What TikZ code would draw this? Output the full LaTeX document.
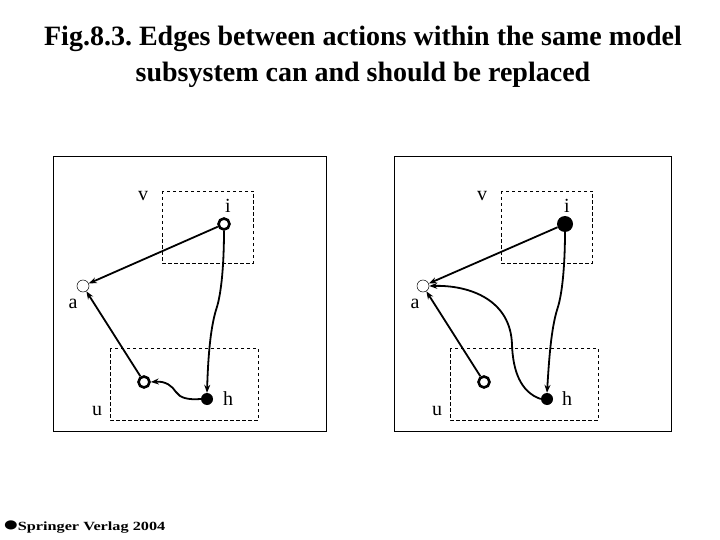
\documentclass[tikz,border=0pt]{standalone}
\usepackage{fontspec}
\setmainfont{Liberation Serif}
\usetikzlibrary{arrows.meta}
\frenchspacing
\begin{document}
\begin{tikzpicture}[x=1pt,y=-1pt,
  panel/.style={draw,line width=0.9pt},
  sub/.style={draw,line width=0.7pt,dash pattern=on 3.5pt off 2.5pt},
  ring/.style={circle,draw,line width=2.6pt,minimum size=11pt,inner sep=0pt},
  dot/.style={circle,fill,minimum size=12pt,inner sep=0pt},
  bigdot/.style={circle,fill,minimum size=16pt,inner sep=0pt},
  open/.style={circle,draw,line width=0.5pt,minimum size=12pt,inner sep=0pt},
  lbl/.style={font=\fontsize{20}{22}\selectfont,inner sep=0pt},
  edge/.style={line width=1.8pt,-{Stealth[length=8pt,width=6pt]}}]
\useasboundingbox (0,0) rectangle (720,540);
% title
\node[font=\bfseries\fontsize{28}{36}\selectfont,align=center] (title) at (363,57)
  {Fig.8.3. Edges between actions within the same model\\subsystem can and should be replaced};
% copyright
\node[anchor=west,inner sep=0pt] (copy) at (4,527)
  {\scalebox{1.3}[1]{\raisebox{1.5pt}{\fontspec{DejaVu Sans}\fontsize{12}{12}\selectfont ●}\fontspec{Liberation Serif}\bfseries\fontsize{12.5}{14}\selectfont Springer Verlag 2004}};

% ---------- left panel ----------
\draw[panel] (53,156) rectangle (326,431);
\draw[sub] (162,191) rectangle (253,263);
\draw[sub] (110,348) rectangle (258,420);
\node[lbl] (Lv) at (143,196) {v};
\node[lbl] (Li) at (228,206) {i};
\node[lbl] (La) at (73,304) {a};
\node[lbl] (Lu) at (97,411) {u};
\node[lbl] (Lh) at (228,399) {h};
\node[open] (a1) at (83,286) {};
\node[ring] (i1) at (224,224) {};
\node[ring] (u1) at (144,382) {};
\node[dot] (h1) at (207,399) {};
\draw[edge] (i1) -- (a1);
\draw[edge] (u1) -- (a1);
\draw[edge] (i1.south) .. controls (224,250) and (223,290) .. (216,310)
  .. controls (210,330) and (208,360) .. (h1.north);
\draw[edge] (h1.west) .. controls (188,400) and (180,398) .. (176,392)
  .. controls (172,386) and (166,381) .. (u1.east);

% ---------- right panel ----------
\draw[panel] (394,156) rectangle (671,431);
\draw[sub] (501,191) rectangle (592,263);
\draw[sub] (450,348) rectangle (598,420);
\node[lbl] (Rv) at (482,196) {v};
\node[lbl] (Ri) at (567,206) {i};
\node[lbl] (Ra) at (415,304) {a};
\node[lbl] (Ru) at (437,411) {u};
\node[lbl] (Rh) at (567,399) {h};
\node[open] (a2) at (423,286) {};
\node[bigdot] (i2) at (565,224) {};
\node[ring] (u2) at (484,382) {};
\node[dot] (h2) at (547,399) {};
\draw[edge] (i2) -- (a2);
\draw[edge] (u2) -- (a2);
\draw[edge] (i2.south) .. controls (565,250) and (564,290) .. (557,310)
  .. controls (551,330) and (549,360) .. (h2.north);
\draw[edge] (h2.west) .. controls (520,392) and (513,370) .. (512,345)
  .. controls (511,300) and (470,285) .. (a2.east);
\end{tikzpicture}
\end{document}
